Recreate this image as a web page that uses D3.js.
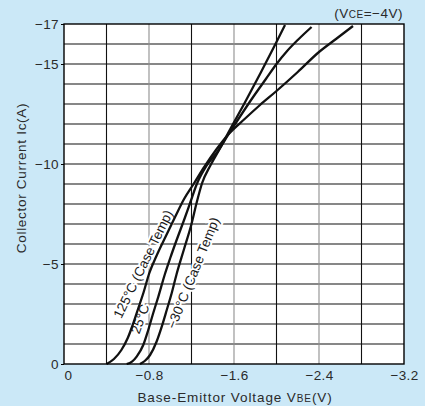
<!DOCTYPE html>
<html>
<head>
<meta charset="utf-8">
<script src="https://cdn.jsdelivr.net/npm/d3@7"></script>
<style>
  body { margin: 0; background: #cbe8f7; }
  svg { display: block; font-family: "Liberation Sans", Arial, sans-serif; }
  .axis text { font-size: 13.5px; fill: #2a2a2a; letter-spacing: 0.4px; }
  .axis path { display: none; }
  .axis line { stroke: #000; }
</style>
</head>
<body>
<svg id="chart" width="425" height="406"></svg>
<script>
// Ic - VBE curves, VCE = -4V
var vbe125 = [-0.40,-0.47,-0.54,-0.60,-0.65,-0.70,-0.75,-0.80,-0.87,-0.95,-1.05,-1.13,-1.22,-1.32,-1.43,-1.55,-1.70,-1.845,-2.0,-2.2,-2.4,-2.56,-2.72];
var ic125  = [0,-0.25,-0.7,-1.3,-2.0,-2.8,-3.6,-4.5,-5.4,-6.3,-7.4,-8.25,-9.0,-9.85,-10.7,-11.5,-12.25,-12.95,-13.65,-14.6,-15.6,-16.25,-16.9];

var vbe25 = [-0.59,-0.64,-0.684,-0.746,-0.793,-0.84,-0.888,-0.95,-1.0,-1.06,-1.13,-1.19,-1.25,-1.34,-1.45,-1.55,-1.66,-1.78,-1.9,-2.0,-2.1,-2.2,-2.33];
var ic25  = [0,-0.12,-0.37,-0.95,-1.7,-2.55,-3.37,-4.5,-5.3,-6.2,-7.2,-8.1,-9.0,-9.9,-10.65,-11.5,-12.4,-13.35,-14.25,-15.0,-15.65,-16.2,-16.85];

var vbeM30 = [-0.715,-0.76,-0.81,-0.87,-0.92,-0.967,-1.014,-1.06,-1.13,-1.20,-1.25,-1.30,-1.38,-1.47,-1.56,-1.70,-1.85,-2.0,-2.08];
var icM30  = [0,-0.15,-0.45,-1.1,-1.87,-2.7,-3.55,-4.5,-5.75,-7.0,-8.1,-9.05,-9.95,-10.8,-11.7,-13.05,-14.55,-16.1,-16.95];

var xTicks = [0,-0.8,-1.6,-2.4,-3.2];
var yTicks = [0,-5,-10,-15,-17];

var svg = d3.select("#chart");
var margin = {left: 64, right: 21, top: 24, bottom: 42};
var width = +svg.attr("width") - margin.left - margin.right,
    height = +svg.attr("height") - margin.top - margin.bottom;

var x = d3.scaleLinear().domain([0, -3.2]).range([margin.left, margin.left + width]);
var y = d3.scaleLinear().domain([0, -17]).range([margin.top + height, margin.top]);

// plot area
svg.append("rect")
    .attr("x", x(0)).attr("y", y(-17))
    .attr("width", width).attr("height", height)
    .attr("fill", "#fff");

var grid = svg.append("g");
grid.selectAll(".hl")
    .data(d3.range(-1, -17, -1))
    .enter().append("line")
    .attr("x1", x(0)).attr("x2", x(-3.2))
    .attr("y1", function(d) { return y(d); })
    .attr("y2", function(d) { return y(d); })
    .attr("stroke", "#111").attr("stroke-width", 1.1);

grid.selectAll(".vl")
    .data(d3.range(1, 8))
    .enter().append("line")
    .attr("x1", function(d) { return x(-0.4 * d); })
    .attr("x2", function(d) { return x(-0.4 * d); })
    .attr("y1", y(0)).attr("y2", y(-17))
    .attr("stroke", function(d) { return d % 2 == 0 ? "#8f8f8f" : "#111"; })
    .attr("stroke-width", 1.1);

// labels along the curves (white halo breaks the grid like the original)
function curveLabel(txt, cx, cy, ang) {
    svg.append("text")
        .attr("transform", "translate(" + cx + "," + cy + ") rotate(" + ang + ")")
        .attr("text-anchor", "middle")
        .attr("dy", "0.35em")
        .attr("font-size", 13.5)
        .attr("fill", "#1a1a1a")
        .attr("stroke", "#fff").attr("stroke-width", 4)
        .attr("paint-order", "stroke")
        .text(txt);
}
curveLabel("125°C (Case Temp)", 143, 264, -64);
curveLabel("25°C", 140, 319, -70);
curveLabel("−30°C (Case Temp)", 193, 273, -68);

var line = d3.line()
    .x(function(d) { return x(d[0]); })
    .y(function(d) { return y(d[1]); })
    .curve(d3.curveMonotoneX);

[[vbe125, ic125], [vbe25, ic25], [vbeM30, icM30]].forEach(function(s) {
    svg.append("path")
        .datum(d3.zip(s[0], s[1]))
        .attr("d", line)
        .attr("fill", "none")
        .attr("stroke", "#111")
        .attr("stroke-width", 2.3);
});

// frame
svg.append("rect")
    .attr("x", x(0)).attr("y", y(-17))
    .attr("width", width).attr("height", height)
    .attr("fill", "none").attr("stroke", "#000").attr("stroke-width", 1.4);

svg.append("g")
    .attr("class", "axis")
    .attr("transform", "translate(" + x(0) + ",0)")
    .call(d3.axisLeft(y).tickValues(yTicks).tickSize(3).tickPadding(2).tickFormat(d3.format("d")));

var xa = svg.append("g")
    .attr("class", "axis")
    .attr("transform", "translate(0," + (y(0) + 2) + ")")
    .call(d3.axisBottom(x).tickValues(xTicks).tickSize(0).tickPadding(4)
        .tickFormat(function(d) { return d == 0 ? "0" : d3.format(".1f")(d); }));
xa.selectAll("text").filter(function(d) { return d == 0; }).attr("dx", 4);

// axis titles
var xt = svg.append("text")
    .attr("x", 235).attr("y", 402)
    .attr("text-anchor", "middle")
    .attr("font-size", 13.5).attr("letter-spacing", 0.9)
    .attr("fill", "#2a2a2a")
    .text("Base-Emittor Voltage V");
xt.append("tspan").attr("font-size", 10).text("BE");
xt.append("tspan").text("(V)");

var yt = svg.append("text")
    .attr("transform", "translate(26,178) rotate(-90)")
    .attr("text-anchor", "middle")
    .attr("font-size", 13.5).attr("letter-spacing", 0.7)
    .attr("fill", "#2a2a2a")
    .text("Collector Current I");
yt.append("tspan").text("c(A)");

var vt = svg.append("text")
    .attr("x", 403).attr("y", 18)
    .attr("text-anchor", "end")
    .attr("font-size", 13.5).attr("letter-spacing", 0.5)
    .attr("fill", "#2a2a2a")
    .text("(V");
vt.append("tspan").attr("font-size", 10).text("CE");
vt.append("tspan").text("=−4V)");
</script>
</body>
</html>
